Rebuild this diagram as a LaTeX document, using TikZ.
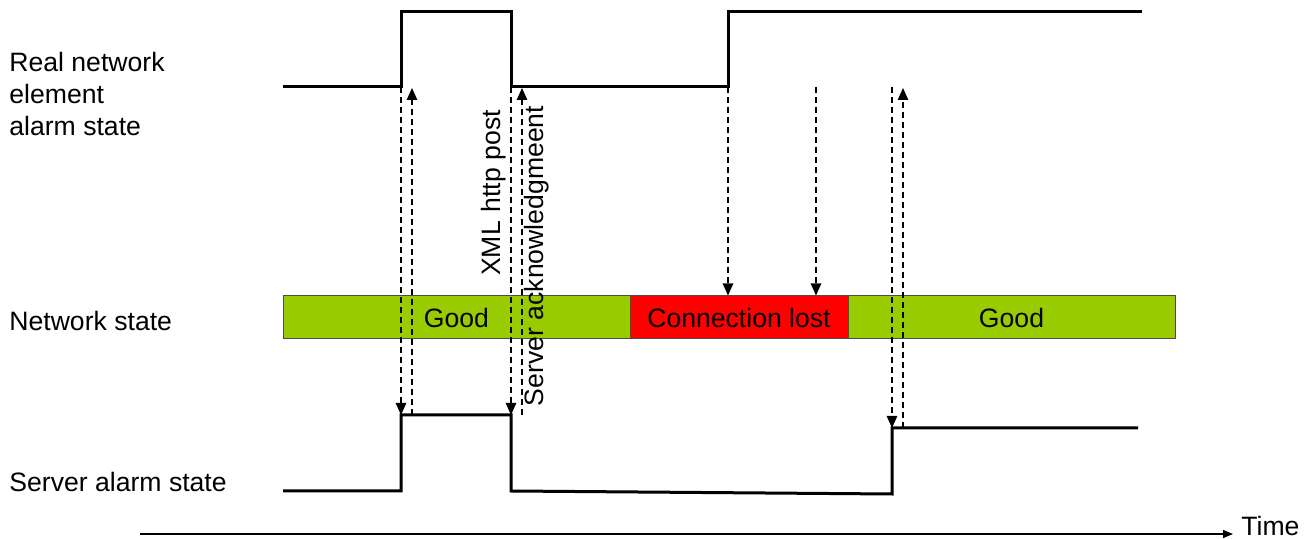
\documentclass[tikz,border=0pt]{standalone}
\usepackage{fontspec}
\setmainfont{Liberation Sans}
\usetikzlibrary{arrows.meta}
\definecolor{goodgreen}{HTML}{99CC00}
\definecolor{lostred}{HTML}{FF0000}
\begin{document}
\begin{tikzpicture}[x=0.5pt,y=-0.5pt,
  lbl/.style={font=\fontsize{13.3}{16}\selectfont, inner sep=0pt, anchor=west, align=left},
  signal/.style={line width=1.5pt, line join=miter},
  msg/.style={line width=0.75pt, dash pattern=on 3pt off 2pt, -{Triangle[length=6pt,width=5.2pt]}},
  barbox/.style={draw=black!70, line width=0.5pt, inner sep=0pt, minimum height=21.5pt, font=\fontsize{13.3}{16}\selectfont},
  rotlbl/.style={font=\fontsize{13.3}{16}\selectfont, inner sep=0pt, rotate=90}
]
\useasboundingbox (0,0) rectangle (1312,539);

% labels
\node[lbl] (lreal) at (9,94) {Real network\\element\\alarm state};
\node[lbl] (lnet) at (9,321) {Network state};
\node[lbl] (lserv) at (9,482) {Server alarm state};

% network state bar
\node[barbox, fill=goodgreen, minimum width=173.5pt] (good1) at (456.5,317.5) {Good};
\node[barbox, fill=lostred, minimum width=109pt] (lost) at (739,317.5) {Connection lost};
\node[barbox, fill=goodgreen, minimum width=163.5pt] (good2) at (1011.5,317.5) {Good};

% real network element signal
\coordinate (r0) at (283,87);
\coordinate (r1) at (401,87);
\coordinate (r2) at (401,12);
\coordinate (r3) at (511,12);
\coordinate (r4) at (511,87);
\coordinate (r5) at (728,87);
\coordinate (r6) at (728,12);
\coordinate (r7) at (1142,12);
\draw[signal] (r0) -- (r1) -- (r2) -- (r3) -- (r4) -- (r5) -- (r6) -- (r7);

% server alarm signal
\coordinate (s0) at (283,491);
\coordinate (s1) at (401,491);
\coordinate (s2) at (401,415);
\coordinate (s3) at (511,415);
\coordinate (s4) at (511,491);
\coordinate (s5) at (892,494);
\coordinate (s6) at (892,428);
\coordinate (s7) at (1138,428);
\draw[signal] (s0) -- (s1) -- (s2) -- (s3) -- (s4) -- (s5) -- (s6) -- (s7);

% messages
\coordinate (a1t) at (412,88);
\coordinate (a1b) at (412,415);
\coordinate (a2t) at (522,88);
\coordinate (a2b) at (522,415);
\coordinate (a3t) at (816,87);
\coordinate (a4t) at (892,87);
\coordinate (a5t) at (903,88);
\coordinate (a5b) at (903,428);
\draw[msg] (r1) -- (s2);
\draw[msg] (a1b) -- (a1t);
\draw[msg] (r4) -- (s3);
\draw[msg] (a2b) -- (a2t);
\draw[msg] (r5) -- (r5 |- lost.north);
\draw[msg] (a3t) -- (a3t |- lost.north);
\draw[msg] (a4t) -- (s6);
\draw[msg] (a5b) -- (a5t);

\node[rotlbl] (xml) at (494,193) {XML\,\,http post};
\node[rotlbl] (ack) at (537,256) {Server acknowledgmeent};

% time axis
\coordinate (t0) at (140,534);
\node[lbl] (time) at (1241,526) {Time};
\draw[line width=0.6pt, -{Triangle[length=5pt,width=4pt]}] (t0) -- (1233,534);
\end{tikzpicture}
\end{document}
